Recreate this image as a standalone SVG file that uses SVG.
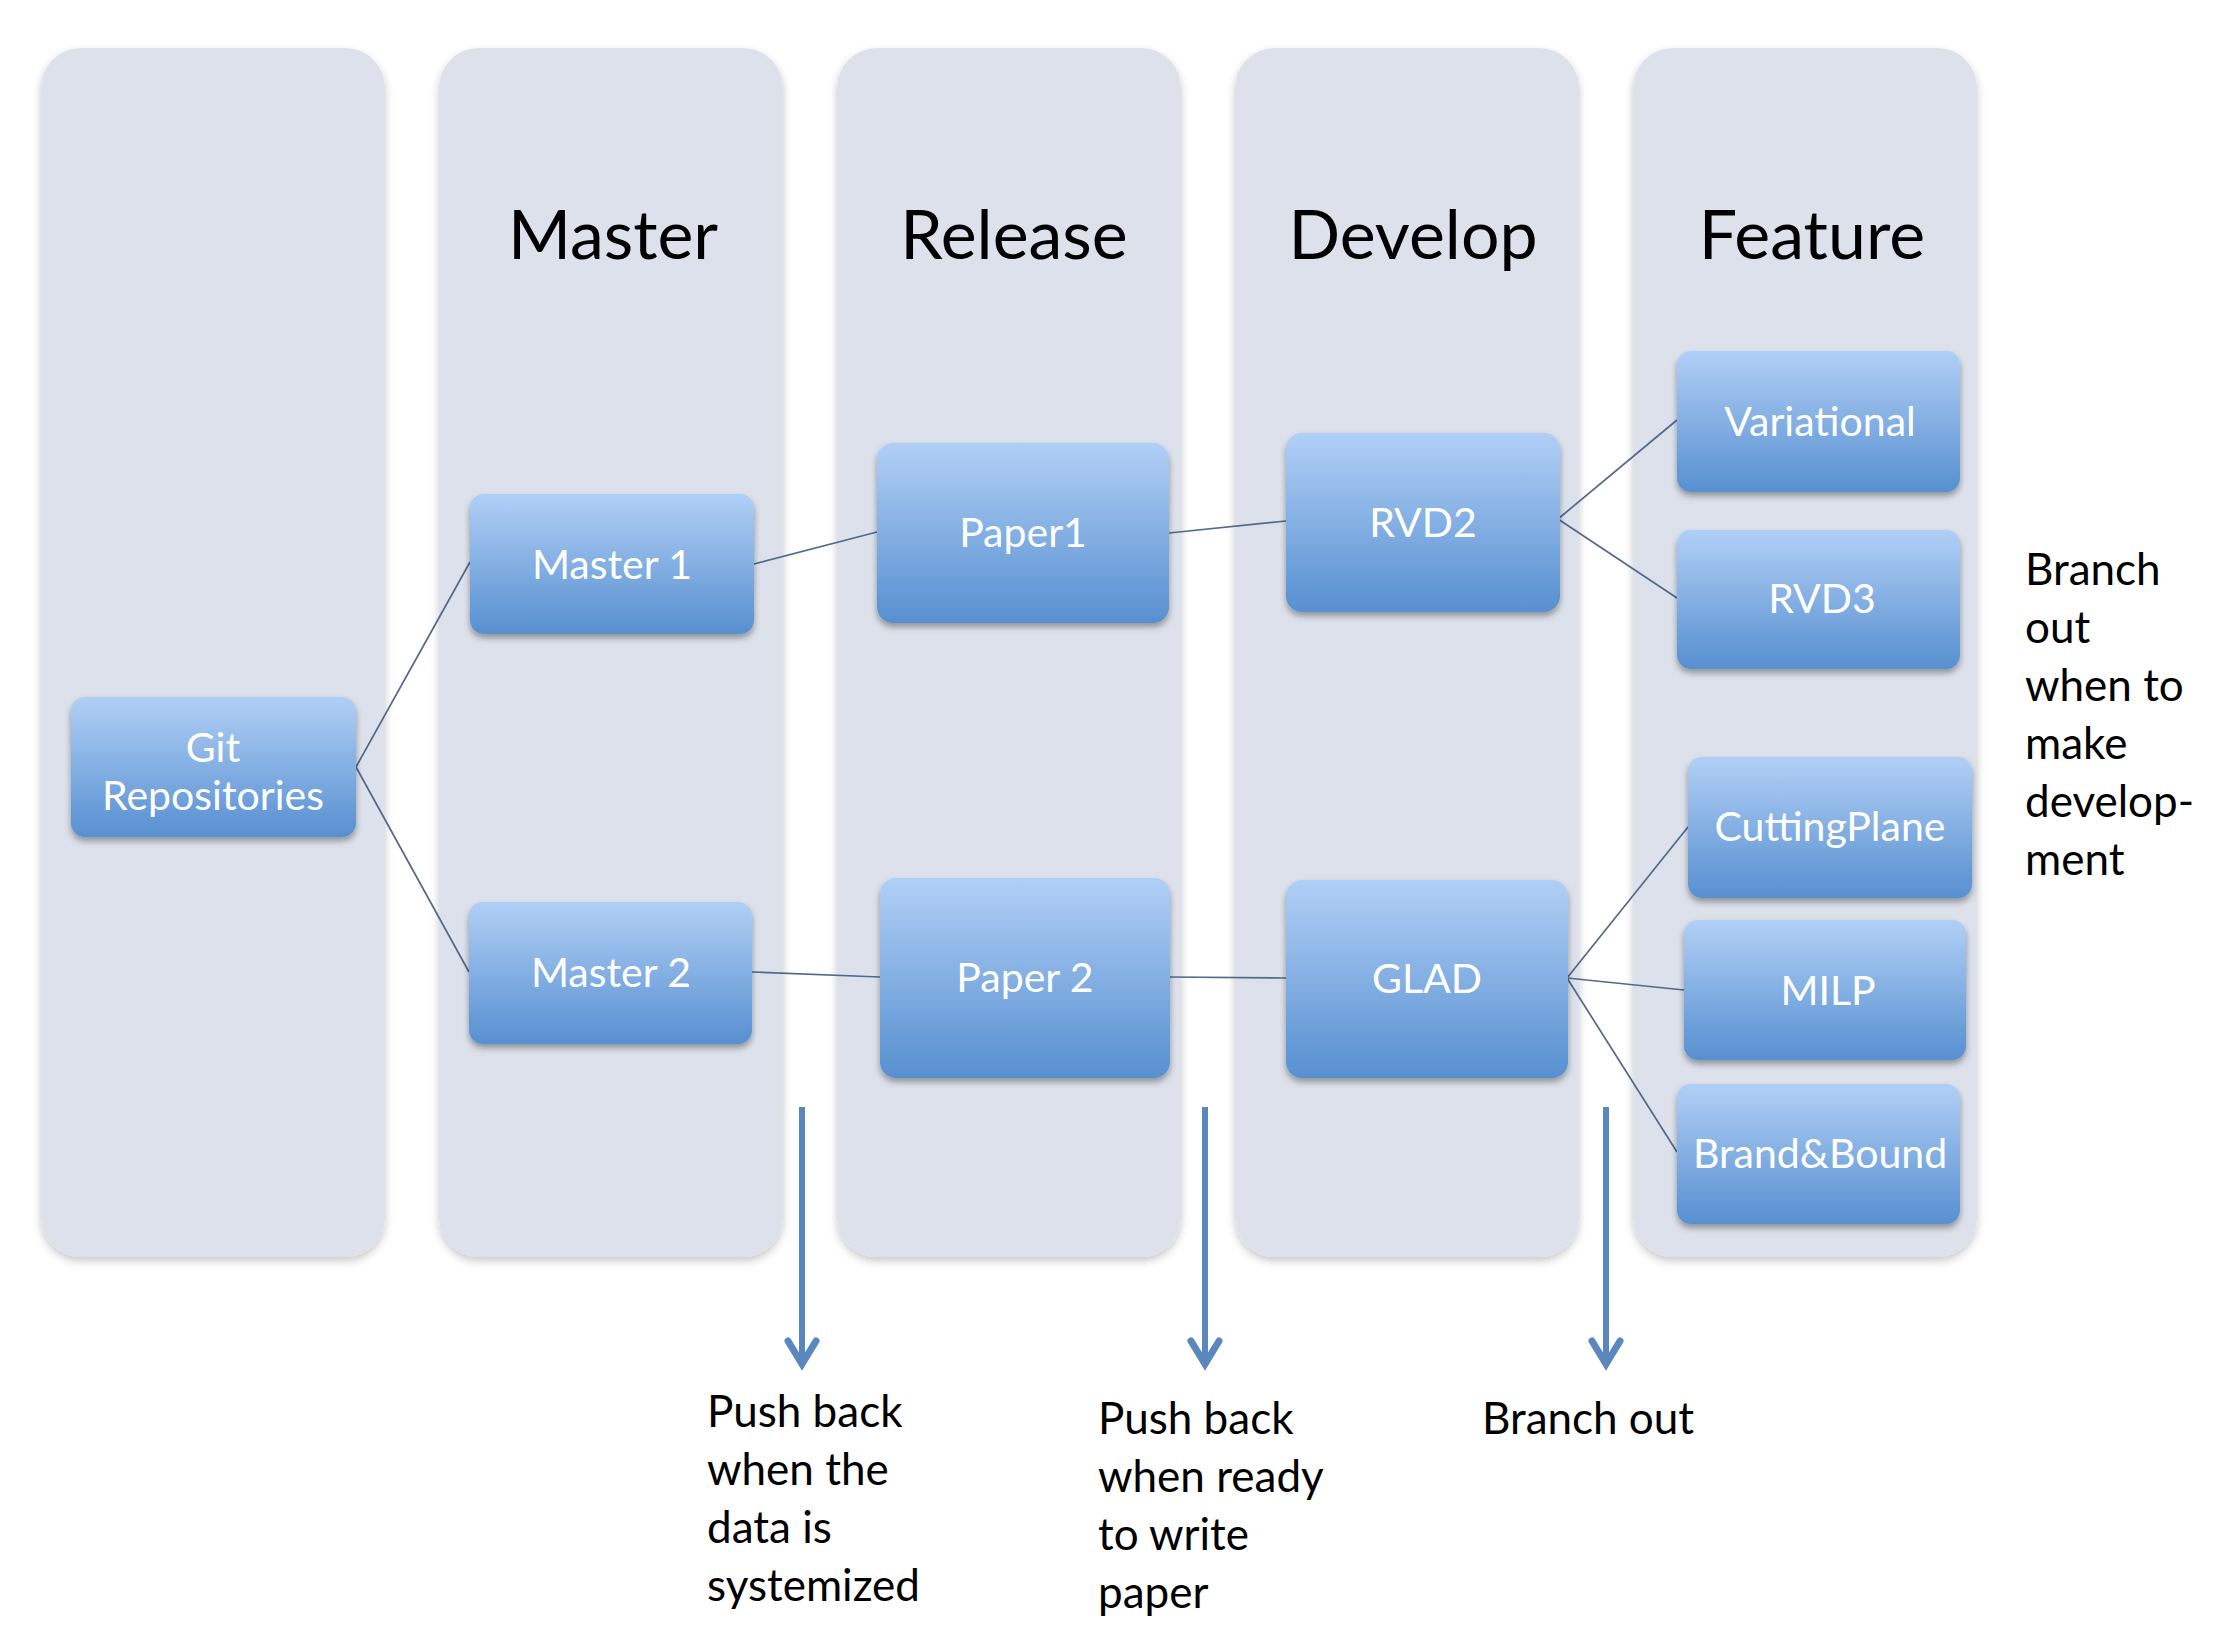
<svg xmlns="http://www.w3.org/2000/svg" width="2226" height="1640" viewBox="0 0 2226 1640">
  <style>
    .col { fill: #DCE1EB; filter: url(#colShadow); }
    .title { font-family: Lato, "Liberation Sans", sans-serif; font-size: 68px; fill: #000; text-anchor: middle; }
    .node { fill: url(#nodeGrad); filter: url(#nodeShadow); }
    .label { font-family: Lato, "Liberation Sans", sans-serif; font-size: 41px; fill: #FFFFFF; text-anchor: middle; }
    .conn { stroke: #52698A; stroke-width: 1.7; fill: none; }
    .arrow { stroke: #5B87BF; stroke-width: 6; fill: none; marker-end: url(#chev); }
    .note { font-family: Lato, "Liberation Sans", sans-serif; font-size: 44px; fill: #000; }
  </style>
  <defs>
    <linearGradient id="nodeGrad" x1="0" y1="0" x2="0" y2="1">
      <stop offset="0" stop-color="#B0CFF7"/>
      <stop offset="0.15" stop-color="#A4C6F0"/>
      <stop offset="0.85" stop-color="#6499D6"/>
      <stop offset="1" stop-color="#5890D0"/>
    </linearGradient>
    <filter id="colShadow" x="-10%" y="-5%" width="120%" height="112%">
      <feDropShadow dx="0" dy="4" stdDeviation="4" flood-color="#000" flood-opacity="0.22"/>
    </filter>
    <filter id="nodeShadow" x="-10%" y="-10%" width="120%" height="130%">
      <feDropShadow dx="0" dy="4" stdDeviation="3" flood-color="#000" flood-opacity="0.35"/>
    </filter>
    <marker id="chev" markerUnits="userSpaceOnUse" markerWidth="40" markerHeight="40" refX="29" refY="20" orient="auto" viewBox="0 0 40 40">
      <path d="M10,6 L33,20 L10,34" fill="none" stroke="#5B87BF" stroke-width="7" stroke-linecap="round" stroke-linejoin="miter"/>
    </marker>
  </defs>

  <rect width="2226" height="1640" fill="#FFFFFF"/>

  <g id="columns">
    <g id="col-git">
      <rect class="col" x="41" y="48" width="344" height="1209" rx="40"/>
    </g>
    <g id="col-master">
      <rect class="col" x="439" y="48" width="344" height="1209" rx="40"/>
      <text class="title" x="613" y="259">Master</text>
    </g>
    <g id="col-release">
      <rect class="col" x="837" y="48" width="344" height="1209" rx="40"/>
      <text class="title" x="1014" y="259">Release</text>
    </g>
    <g id="col-develop">
      <rect class="col" x="1235" y="48" width="344" height="1209" rx="40"/>
      <text class="title" x="1413" y="259">Develop</text>
    </g>
    <g id="col-feature">
      <rect class="col" x="1633" y="48" width="344" height="1209" rx="40"/>
      <text class="title" x="1812" y="259">Feature</text>
    </g>
  </g>

  <g id="connectors">
    <line class="conn" x1="356" y1="767" x2="470" y2="562"/>
    <line class="conn" x1="356" y1="767" x2="469" y2="972"/>
    <line class="conn" x1="754" y1="564" x2="877" y2="532"/>
    <line class="conn" x1="1169" y1="533" x2="1286" y2="521"/>
    <line class="conn" x1="1558" y1="519" x2="1677" y2="420"/>
    <line class="conn" x1="1558" y1="519" x2="1677" y2="598"/>
    <line class="conn" x1="752" y1="972" x2="880" y2="977"/>
    <line class="conn" x1="1170" y1="977" x2="1286" y2="978"/>
    <line class="conn" x1="1567" y1="978" x2="1688" y2="827"/>
    <line class="conn" x1="1567" y1="978" x2="1684" y2="990"/>
    <line class="conn" x1="1567" y1="978" x2="1677" y2="1152"/>
    <line class="arrow" x1="802" y1="1107" x2="802" y2="1360"/>
    <line class="arrow" x1="1205" y1="1107" x2="1205" y2="1360"/>
    <line class="arrow" x1="1606" y1="1107" x2="1606" y2="1360"/>
  </g>

  <g id="node-git">
    <rect class="node" x="71" y="697" width="285" height="140" rx="14"/>
    <text class="label" x="213" y="762">Git</text>
    <text class="label" x="213" y="810">Repositories</text>
  </g>
  <g id="node-master1">
    <rect class="node" x="470" y="494" width="284" height="140" rx="14"/>
    <text class="label" x="612" y="579">Master 1</text>
  </g>
  <g id="node-master2">
    <rect class="node" x="469" y="902" width="283" height="142" rx="14"/>
    <text class="label" x="611" y="987">Master 2</text>
  </g>
  <g id="node-paper1">
    <rect class="node" x="877" y="443" width="292" height="180" rx="16"/>
    <text class="label" x="1023" y="547">Paper1</text>
  </g>
  <g id="node-rvd2">
    <rect class="node" x="1286" y="433" width="274" height="179" rx="16"/>
    <text class="label" x="1423" y="537">RVD2</text>
  </g>
  <g id="node-paper2">
    <rect class="node" x="880" y="878" width="290" height="200" rx="16"/>
    <text class="label" x="1025" y="992">Paper 2</text>
  </g>
  <g id="node-glad">
    <rect class="node" x="1286" y="880" width="282" height="198" rx="16"/>
    <text class="label" x="1427" y="993">GLAD</text>
  </g>
  <g id="node-variational">
    <rect class="node" x="1677" y="351" width="283" height="141" rx="14"/>
    <text class="label" x="1820" y="436">Variational</text>
  </g>
  <g id="node-rvd3">
    <rect class="node" x="1677" y="530" width="283" height="139" rx="14"/>
    <text class="label" x="1822" y="613">RVD3</text>
  </g>
  <g id="node-cuttingplane">
    <rect class="node" x="1688" y="757" width="284" height="141" rx="14"/>
    <text class="label" x="1830" y="841">CuttingPlane</text>
  </g>
  <g id="node-milp">
    <rect class="node" x="1684" y="920" width="282" height="140" rx="14"/>
    <text class="label" x="1828" y="1005">MILP</text>
  </g>
  <g id="node-brandbound">
    <rect class="node" x="1677" y="1084" width="283" height="140" rx="14"/>
    <text class="label" x="1820" y="1168">Brand&amp;Bound</text>
  </g>

  <g id="notes">
    <text class="note" x="707" y="1427">Push back</text>
    <text class="note" x="707" y="1485">when the</text>
    <text class="note" x="707" y="1543">data is</text>
    <text class="note" x="707" y="1601">systemized</text>

    <text class="note" x="1098" y="1434">Push back</text>
    <text class="note" x="1098" y="1492">when ready</text>
    <text class="note" x="1098" y="1550">to write</text>
    <text class="note" x="1098" y="1608">paper</text>

    <text class="note" x="1482" y="1434">Branch out</text>

    <text class="note" x="2025" y="585">Branch</text>
    <text class="note" x="2025" y="643">out</text>
    <text class="note" x="2025" y="701">when to</text>
    <text class="note" x="2025" y="759">make</text>
    <text class="note" x="2025" y="817">develop-</text>
    <text class="note" x="2025" y="875">ment</text>
  </g>
</svg>
